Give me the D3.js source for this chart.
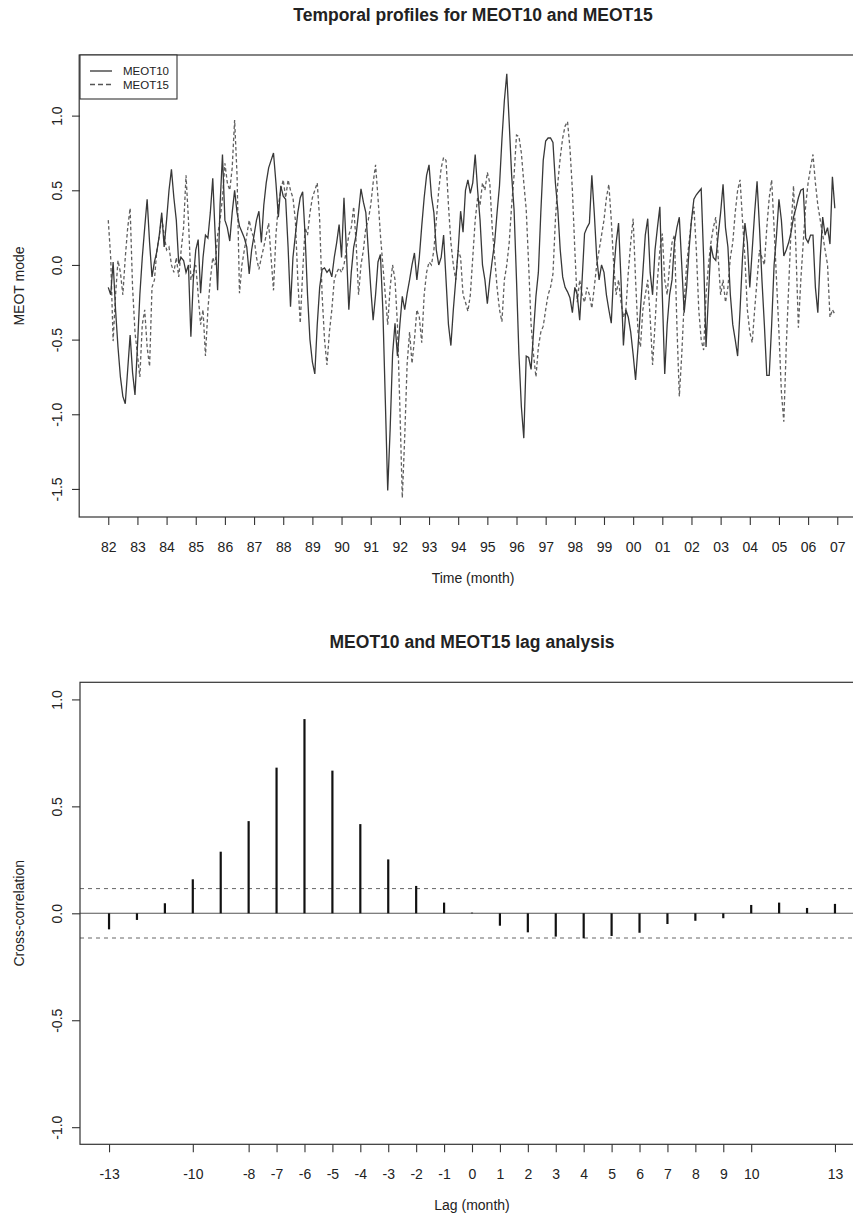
<!DOCTYPE html>
<html><head><meta charset="utf-8">
<script src="https://cdn.jsdelivr.net/npm/d3@7"></script>
<style>
body{margin:0;background:#fff;overflow:hidden;}
svg text{font-family:"Liberation Sans", Arial, Helvetica, sans-serif;fill:#222;}
</style></head><body>
<svg id="c" width="853" height="1215"></svg>
<script>
// ---------------- data ----------------
const yearLabels = ["82","83","84","85","86","87","88","89","90","91","92","93","94","95","96","97","98","99","00","01","02","03","04","05","06","07"];
const meot10 = [
-0.15,-0.20,0.02,-0.30,-0.55,-0.75,-0.88,-0.93,-0.70,-0.47,
-0.72,-0.87,-0.55,-0.20,0.05,0.25,0.44,0.15,-0.08,0.02,
0.09,0.20,0.35,0.12,0.30,0.50,0.64,0.45,0.30,0.01,
0.05,0.03,-0.05,0.00,-0.48,-0.10,0.10,0.17,-0.19,0.05,
0.20,0.18,0.35,0.58,0.20,-0.17,0.40,0.74,0.30,0.25,
0.16,0.35,0.50,0.35,0.26,0.22,0.18,0.12,-0.06,0.10,
0.20,0.30,0.36,0.15,0.40,0.55,0.65,0.70,0.75,0.55,
0.32,0.53,0.46,0.44,0.12,-0.28,0.05,0.20,0.35,0.45,
0.49,0.20,-0.20,-0.50,-0.65,-0.73,-0.40,-0.15,-0.03,-0.02,
-0.05,-0.03,-0.08,0.05,0.15,0.27,0.05,0.45,0.10,-0.30,
-0.05,0.12,0.20,0.35,0.51,0.42,0.35,0.10,-0.15,-0.37,
-0.20,0.02,0.07,-0.30,-0.90,-1.51,-1.10,-0.60,-0.39,-0.61,
-0.40,-0.21,-0.30,-0.19,-0.10,0.00,0.08,-0.10,0.05,0.26,
0.45,0.60,0.67,0.46,0.35,0.10,0.00,0.05,0.20,-0.10,
-0.40,-0.54,-0.30,-0.10,0.10,0.36,0.22,0.50,0.57,0.48,
0.55,0.74,0.50,0.30,0.00,-0.10,-0.26,-0.10,0.03,0.15,
0.35,0.53,0.84,1.10,1.28,0.95,0.60,0.37,-0.10,-0.60,
-0.95,-1.16,-0.61,-0.62,-0.70,-0.45,-0.21,-0.05,0.35,0.70,
0.83,0.85,0.85,0.82,0.55,0.37,0.10,-0.08,-0.15,-0.18,
-0.22,-0.32,-0.15,-0.20,-0.37,-0.10,0.21,0.25,0.28,0.60,
0.35,0.05,-0.10,0.00,-0.05,-0.20,-0.30,-0.39,-0.05,0.15,
0.28,-0.10,-0.54,-0.30,-0.35,-0.45,-0.60,-0.77,-0.55,-0.30,
-0.05,0.20,0.31,-0.05,-0.20,0.10,0.25,0.39,-0.20,-0.73,
-0.40,-0.20,-0.10,0.15,0.25,0.32,0.00,-0.32,-0.15,0.10,
0.30,0.44,0.47,0.49,0.51,0.05,-0.55,-0.20,0.13,0.05,
0.03,0.20,0.35,0.54,0.25,0.12,-0.20,-0.40,-0.50,-0.61,
-0.30,0.05,0.28,0.15,-0.15,0.10,0.35,0.56,0.25,-0.10,
-0.40,-0.74,-0.74,-0.40,0.00,0.20,0.44,0.30,0.06,0.10,
0.15,0.22,0.32,0.38,0.45,0.50,0.51,0.18,0.15,0.20,
0.20,-0.15,-0.32,0.05,0.32,0.20,0.25,0.14,0.59,0.38];
const meot15 = [
0.30,0.05,-0.51,-0.20,0.03,-0.05,-0.20,0.05,0.25,0.38,
-0.15,-0.45,-0.60,-0.75,-0.40,-0.30,-0.55,-0.68,-0.15,-0.10,
0.10,0.19,0.32,0.20,0.10,0.12,0.00,-0.05,0.05,-0.08,
0.10,0.25,0.60,0.30,-0.10,-0.05,0.00,-0.20,-0.40,-0.30,
-0.61,-0.30,-0.10,0.05,0.00,0.20,0.30,0.45,0.68,0.55,
0.50,0.65,0.97,0.60,-0.19,0.00,0.10,0.20,0.30,0.22,
0.18,0.05,-0.03,0.05,0.12,0.20,0.28,0.05,-0.17,0.20,
0.40,0.50,0.57,0.45,0.57,0.50,0.45,0.30,-0.10,-0.39,
-0.05,0.25,0.20,0.35,0.45,0.50,0.55,0.30,-0.20,-0.50,
-0.67,-0.45,-0.30,-0.10,-0.05,-0.02,-0.05,0.00,0.10,0.20,
0.25,0.39,0.15,-0.20,0.00,0.10,0.25,0.30,0.40,0.55,
0.67,0.45,0.20,0.00,-0.20,-0.40,-0.15,0.00,-0.10,-0.40,
-0.95,-1.56,-1.15,-0.66,-0.45,-0.66,-0.50,-0.30,-0.35,-0.52,
-0.20,-0.05,0.02,0.00,0.10,0.30,0.50,0.65,0.72,0.70,
0.40,0.15,0.00,-0.10,0.10,0.05,-0.20,-0.25,-0.31,-0.20,
0.05,0.30,0.45,0.40,0.55,0.50,0.62,0.55,0.25,0.05,
-0.15,-0.30,-0.38,-0.10,0.00,0.15,0.40,0.60,0.87,0.86,
0.75,0.55,0.37,0.00,-0.40,-0.60,-0.75,-0.55,-0.45,-0.41,
-0.30,-0.20,-0.15,-0.06,0.30,0.55,0.72,0.85,0.93,0.96,
0.78,0.50,0.10,-0.25,-0.10,-0.20,-0.25,-0.15,-0.20,-0.29,
-0.15,0.00,0.10,0.20,0.30,0.45,0.54,0.30,0.00,-0.20,
-0.10,-0.25,-0.35,-0.30,-0.05,0.15,0.31,-0.10,-0.45,-0.55,
-0.30,-0.20,-0.10,-0.35,-0.67,-0.40,-0.10,0.10,0.21,-0.10,
-0.20,0.00,0.15,0.20,-0.40,-0.88,-0.60,-0.25,0.00,0.15,
0.30,0.39,0.10,-0.30,-0.50,-0.57,-0.20,0.00,0.15,0.25,
0.32,0.05,-0.20,-0.10,-0.25,-0.15,0.05,0.15,0.35,0.50,
0.57,0.30,0.05,-0.30,-0.45,-0.52,-0.30,-0.10,0.10,0.05,
0.00,0.25,0.45,0.57,0.25,-0.10,-0.45,-0.85,-1.05,-0.55,
-0.15,0.25,0.53,0.10,-0.42,-0.10,0.15,0.40,0.55,0.65,
0.74,0.55,0.40,0.30,0.20,0.10,0.00,-0.35,-0.30,-0.33];
const seriesNames = ["MEOT10","MEOT15"];
const topYTicks = [-1.5,-1.0,-0.5,0.0,0.5,1.0];

const lags = [-13,-12,-11,-10,-9,-8,-7,-6,-5,-4,-3,-2,-1,0,1,2,3,4,5,6,7,8,9,10,11,12,13];
const xcorr = [-0.075,-0.031,0.047,0.159,0.288,0.431,0.681,0.908,0.667,0.417,0.252,0.128,0.050,
  0.003,-0.058,-0.089,-0.109,-0.117,-0.106,-0.091,-0.050,-0.035,-0.023,0.039,0.050,0.025,0.044];
const lagTicks = [-13,-10,-8,-7,-6,-5,-4,-3,-2,-1,0,1,2,3,4,5,6,7,8,9,10,13];
const botYTicks = [-1.0,-0.5,0.0,0.5,1.0];
const confLimit = 0.1155;

// ---------------- drawing ----------------
const svg = d3.select("#c");
const fmt1 = d => (Math.abs(d) < 1e-9 ? 0 : d).toFixed(1);
const AX = "#333";

function rotatedYAxis(g, scale, ticks, x0){
  const ax = g.append("g").attr("transform",`translate(${x0},0)`)
    .call(d3.axisLeft(scale).tickValues(ticks).tickSize(8).tickFormat(fmt1));
  ax.select(".domain").remove();
  ax.selectAll(".tick line").attr("stroke",AX).attr("stroke-width",1.1);
  ax.selectAll(".tick text").attr("transform","rotate(-90)")
    .attr("x",0).attr("y",-18.5).attr("dy",0).attr("text-anchor","middle")
    .style("font-size","14px").attr("fill","#222");
}

// ===== Top panel =====
const T = {l:80, t:55, b:517};
const xT = d3.scaleLinear().domain([-10.96, 311.96]).range([79.2, 863.9]);
const yT = d3.scaleLinear().domain([-1.688, 1.406]).range([T.b, T.t]);

svg.append("text").attr("x",473).attr("y",20.7).attr("text-anchor","middle")
  .style("font-size","17.5px").style("font-weight","bold").text("Temporal profiles for MEOT10 and MEOT15");

const gTop = svg.append("g");
const lineGen = d3.line().x((d,i)=>xT(i+1)).y(d=>yT(d));
gTop.append("path").datum(meot15).attr("d",lineGen).attr("fill","none")
  .attr("stroke","#606060").attr("stroke-width",1.3).attr("stroke-dasharray","3.5,2.5");
gTop.append("path").datum(meot10).attr("d",lineGen).attr("fill","none")
  .attr("stroke","#383838").attr("stroke-width",1.3);

gTop.append("rect").attr("x",xT.range()[0]).attr("y",T.t)
  .attr("width",xT.range()[1]-xT.range()[0]).attr("height",T.b-T.t)
  .attr("fill","none").attr("stroke",AX).attr("stroke-width",1.2);

const yearPos = yearLabels.map((s,k)=>1+12*k);
const xa = gTop.append("g").attr("transform",`translate(0,${T.b})`)
  .call(d3.axisBottom(xT).tickValues(yearPos).tickSize(8).tickPadding(17)
    .tickFormat((d,i)=>yearLabels[i]));
xa.select(".domain").remove();
xa.selectAll(".tick line").attr("stroke",AX).attr("stroke-width",1.1);
xa.selectAll(".tick text").style("font-size","14px").attr("fill","#222");
rotatedYAxis(gTop, yT, topYTicks, T.l);

gTop.append("text").attr("x",473).attr("y",582.7).attr("text-anchor","middle")
  .style("font-size","14px").text("Time (month)");
gTop.append("text").attr("transform",`translate(24,${(T.t+T.b)/2}) rotate(-90)`)
  .attr("text-anchor","middle").style("font-size","14px").text("MEOT mode");

const lg = gTop.append("g");
lg.append("rect").attr("x",80).attr("y",55).attr("width",97).attr("height",44)
  .attr("fill","#fff").attr("stroke",AX).attr("stroke-width",1.1);
seriesNames.forEach((n,i)=>{
  const yy = 71 + i*13.5;
  lg.append("line").attr("x1",90).attr("x2",112).attr("y1",yy).attr("y2",yy)
    .attr("stroke", i? "#555":"#333").attr("stroke-width",1.3)
    .attr("stroke-dasharray", i? "5,3":null);
  lg.append("text").attr("x",123).attr("y",yy+4).style("font-size","11.5px").text(n);
});

// ===== Bottom panel =====
const B = {t:682.3, b:1144.3};
const xB = d3.scaleLinear().domain([-14.04, 14.04]).range([80, 864]);
const yB = d3.scaleLinear().domain([-1.08, 1.08]).range([B.b, B.t]);

svg.append("text").attr("x",472).attr("y",648).attr("text-anchor","middle")
  .style("font-size","17.5px").style("font-weight","bold").text("MEOT10 and MEOT15 lag analysis");

const bot = svg.append("g");
bot.append("line").attr("x1",xB.range()[0]).attr("x2",xB.range()[1])
  .attr("y1",yB(0)).attr("y2",yB(0)).attr("stroke","#555").attr("stroke-width",1.1);
[confLimit,-confLimit].forEach(c=>{
  bot.append("line").attr("x1",xB.range()[0]).attr("x2",xB.range()[1])
    .attr("y1",yB(c)).attr("y2",yB(c)).attr("stroke","#666").attr("stroke-width",1)
    .attr("stroke-dasharray","4,4");
});
bot.selectAll("line.bar").data(lags).enter().append("line").attr("class","bar")
  .attr("x1",d=>xB(d)).attr("x2",d=>xB(d))
  .attr("y1",yB(0)).attr("y2",(d,i)=>yB(xcorr[i]))
  .attr("stroke","#111").attr("stroke-width",2.2);

bot.append("rect").attr("x",xB.range()[0]).attr("y",B.t)
  .attr("width",xB.range()[1]-xB.range()[0]).attr("height",B.b-B.t)
  .attr("fill","none").attr("stroke",AX).attr("stroke-width",1.2);

const xb = bot.append("g").attr("transform",`translate(0,${B.b})`)
  .call(d3.axisBottom(xB).tickValues(lagTicks).tickSize(8).tickPadding(17)
    .tickFormat(d=>String(d)));
xb.select(".domain").remove();
xb.selectAll(".tick line").attr("stroke",AX).attr("stroke-width",1.1);
xb.selectAll(".tick text").style("font-size","14px").attr("fill","#222");
rotatedYAxis(bot, yB, botYTicks, 80);

bot.append("text").attr("x",472).attr("y",1210).attr("text-anchor","middle")
  .style("font-size","14px").text("Lag (month)");
bot.append("text").attr("transform",`translate(24,${(B.t+B.b)/2}) rotate(-90)`)
  .attr("text-anchor","middle").style("font-size","14px").text("Cross-correlation");
</script>
</body></html>
